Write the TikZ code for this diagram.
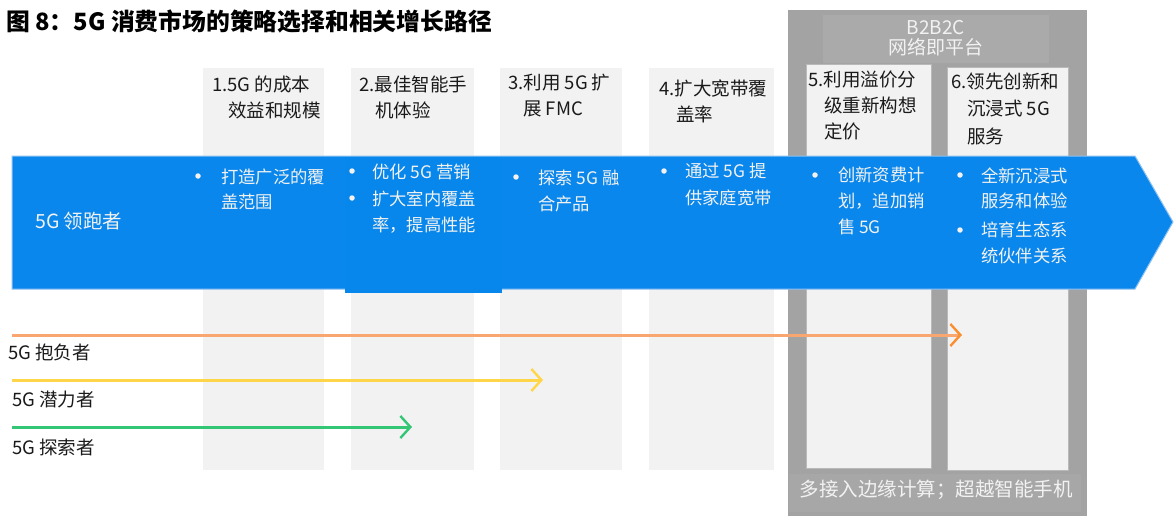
\documentclass[tikz,border=0pt]{standalone}
\usepackage{fontspec}
\setmainfont{Noto Sans CJK SC}
\usetikzlibrary{arrows.meta}
\definecolor{colgray}{HTML}{F2F2F2}
\definecolor{darkgray}{HTML}{A3A3A3}
\definecolor{boxgray}{HTML}{AAAAAA}
\definecolor{botgray}{HTML}{A7A7A7}
\definecolor{blueA}{HTML}{0A87EC}
\definecolor{blueB}{HTML}{0787EB}
\definecolor{blueEdge}{HTML}{8DC2F2}
\definecolor{wtext}{HTML}{F2F2F2}
\definecolor{labelc}{HTML}{1A1A1A}
\definecolor{orangel}{HTML}{F9A670}
\definecolor{orangeh}{HTML}{F98F30}
\definecolor{yell}{HTML}{FFD54A}
\definecolor{greenl}{HTML}{33C675}
\begin{document}
\begin{tikzpicture}[x=1pt,y=-1pt,
  lbl/.style={font=\fontsize{18.5}{26}\selectfont, text=labelc, align=left, anchor=north west, inner sep=0pt},
  wtx/.style={font=\fontsize{17.3}{25.5}\selectfont, text=wtext, align=left, anchor=north west, inner sep=0pt},
  gtx/.style={font=\fontsize{19.5}{20}\selectfont, text=wtext, inner sep=0pt},
  bul/.style={circle, fill=wtext, inner sep=0pt, minimum size=5.5pt},
  side/.style={font=\fontsize{18.5}{22}\selectfont, text=labelc, anchor=north west, inner sep=0pt},
  path/.style={line width=3pt}
]
\useasboundingbox[fill=white] (0,0) rectangle (1174,516);

% title
\node[anchor=north west, inner sep=0pt, font=\fontsize{23.8}{26}\selectfont\bfseries] (title) at (6,9.3) {图 8：5G 消费市场的策略选择和相关增长路径};

% gray B2B2C area
\fill[darkgray] (788,10) rectangle (1087,516);
\fill[boxgray] (823,15) rectangle (1049,63);
\node[gtx, align=center, font=\fontsize{19}{20}\selectfont] (b2b) at (936,38) {B2B2C\\网络即平台};
\fill[botgray] (789,474) rectangle (1081,512);
\node[gtx] (edge) at (936,490) {多接入边缘计算；超越智能手机};

% light columns
\fill[colgray] (203,68) rectangle (324,470);
\fill[colgray] (351,68) rectangle (474,470);
\fill[colgray] (500,68) rectangle (622,470);
\fill[colgray] (649,68) rectangle (774,470);
\filldraw[fill=colgray, draw=gray!55, line width=0.6pt] (806,64) rectangle (931,468);
\filldraw[fill=colgray, draw=gray!55, line width=0.6pt] (947,67) rectangle (1068,470);

% column labels
\node[lbl] (c1) at (212,75.5) {1.5G 的成本\\\hspace*{16pt}效益和规模};
\node[lbl] (c2) at (359,75.5) {2.最佳智能手\\\hspace*{16pt}机体验};
\node[lbl] (c3) at (508,73.5) {3.利用 5G 扩\\\hspace*{15pt}展 FMC};
\node[lbl] (c4) at (659,79.5) {4.扩大宽带覆\\\hspace*{17pt}盖率};
\node[lbl] (c5) at (808,70.5) {5.利用溢价分\\\hspace*{16pt}级重新构想\\\hspace*{16pt}定价};
\node[lbl, font=\fontsize{18.5}{27.5}\selectfont] (c6) at (951,72.5) {6.领先创新和\\\hspace*{16pt}沉浸式 5G\\\hspace*{16pt}服务};

% blue arrow
\filldraw[fill=blueA, draw=blueEdge, line width=1pt] (12,156) -- (1135,156) -- (1173,222) -- (1135,289) -- (12,289) -- cycle;
\fill[blueB] (345,157) rectangle (502,293);

\node[wtx, font=\fontsize{19.5}{22}\selectfont] (lead) at (35,212) {5G 领跑者};

% bullets and texts
\node[bul] (p1) at (198,176) {};
\node[wtx] (t1) at (221,168.3) {打造广泛的覆\\盖范围};
\node[bul] (p2a) at (352,171) {};
\node[wtx] (t2a) at (372,163.4) {优化 5G 营销};
\node[bul] (p2b) at (352,198) {};
\node[wtx, font=\fontsize{17.3}{26}\selectfont] (t2b) at (372,190.4) {扩大室内覆盖\\率，提高性能};
\node[bul] (p3) at (516,177) {};
\node[wtx, font=\fontsize{17.3}{26}\selectfont] (t3) at (538,169.4) {探索 5G 融\\合产品};
\node[bul] (p4) at (664,171) {};
\node[wtx, font=\fontsize{17.3}{27}\selectfont] (t4) at (685,162.4) {通过 5G 提\\供家庭宽带};
\node[bul] (p5) at (815,175) {};
\node[wtx, font=\fontsize{17.3}{26}\selectfont] (t5) at (838,166.4) {创新资费计\\划，追加销\\售 5G};
\node[bul] (p6a) at (960,175) {};
\node[wtx, font=\fontsize{17.3}{25}\selectfont] (t6a) at (981,167.4) {全新沉浸式\\服务和体验};
\node[bul] (p6b) at (960,230) {};
\node[wtx, font=\fontsize{17.3}{26}\selectfont] (t6b) at (981,221.4) {培育生态系\\统伙伴关系};

% growth paths
\coordinate (o1) at (12,335); \coordinate (o2) at (962,335);
\coordinate (y1) at (12,380); \coordinate (y2) at (543,380);
\coordinate (g1) at (12,427); \coordinate (g2) at (412,427);
\draw[path, orangel, -{Straight Barb[length=10pt,width=22pt,line width=2.4pt,color=orangeh]}] (o1) -- (o2);
\draw[path, yell, -{Straight Barb[length=10pt,width=22pt,line width=2.4pt]}] (y1) -- (y2);
\draw[path, greenl, -{Straight Barb[length=10pt,width=22pt,line width=2.4pt]}] (g1) -- (g2);

\node[side] (s1) at (8,343.7) {5G 抱负者};
\node[side] (s2) at (12,390.7) {5G 潜力者};
\node[side] (s3) at (12,438.7) {5G 探索者};
\end{tikzpicture}
\end{document}
